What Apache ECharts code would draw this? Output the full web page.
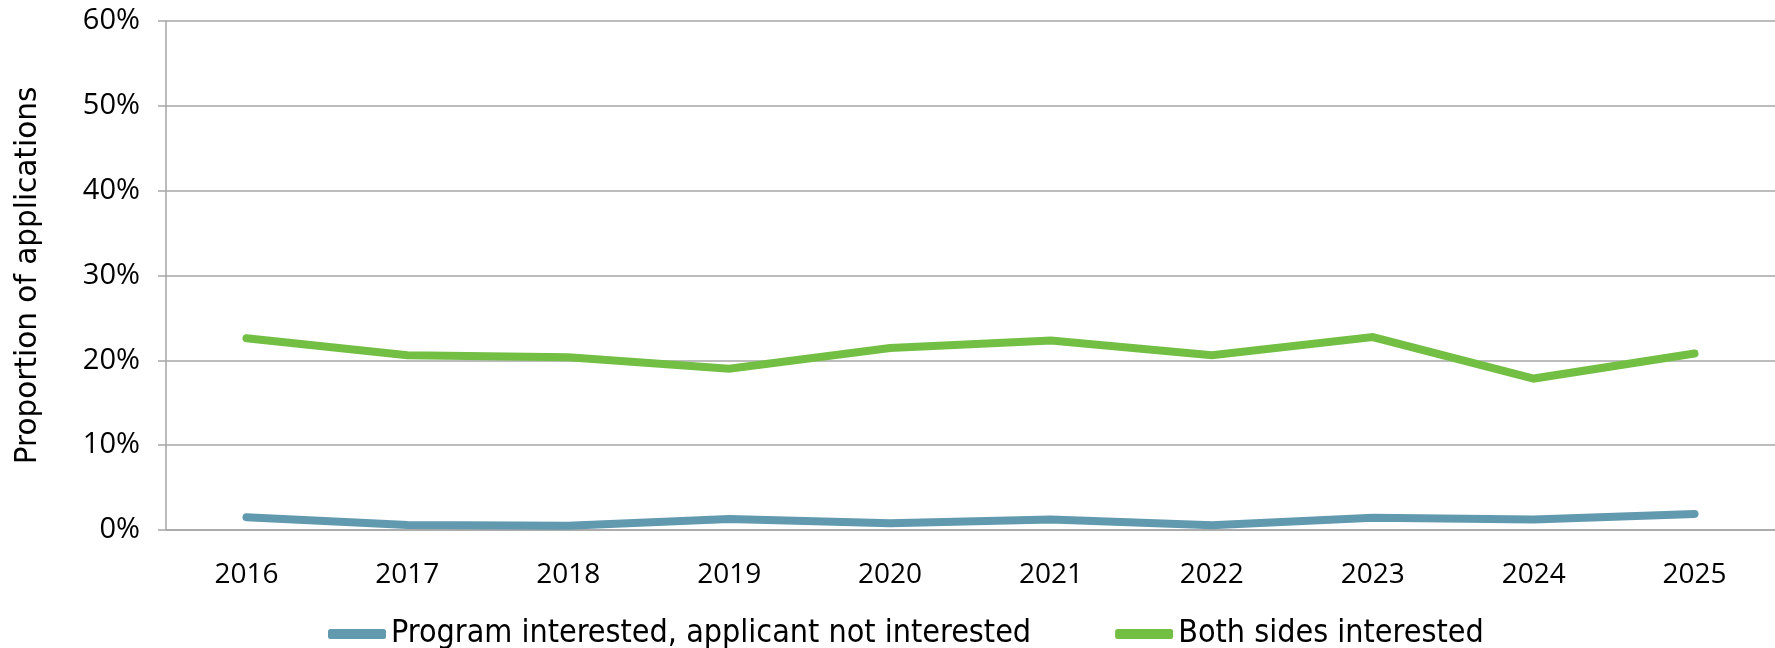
<!DOCTYPE html>
<html>
<head>
<meta charset="utf-8">
<script src="https://cdn.jsdelivr.net/npm/echarts@6/dist/echarts.min.js"></script>
<style>
html,body{margin:0;padding:0;background:#fff;}
#chart{width:1775px;height:648px;}
</style>
</head>
<body>
<div id="chart"></div>
<script>
const years = ['2016','2017','2018','2019','2020','2021','2022','2023','2024','2025'];
const programOnly = [1.5, 0.6, 0.5, 1.3, 0.8, 1.25, 0.55, 1.45, 1.25, 1.9];
const bothSides = [22.6, 20.6, 20.35, 19.0, 21.45, 22.35, 20.6, 22.75, 17.85, 20.8];
const seriesNames = ['Program interested, applicant not interested', 'Both sides interested'];
const yTicks = [0, 10, 20, 30, 40, 50, 60];

const chart = echarts.init(document.getElementById('chart'), null, {renderer:'canvas'});
const gray = '#A6A6A6';
chart.setOption({
  animation: false,
  backgroundColor: '#ffffff',
  grid: {left: 166, top: 21, width: 1617, height: 509, containLabel: false},
  legend: {
    left: 323, top: 613,
    itemWidth: 58, itemHeight: 10, itemGap: 84,
    icon: 'roundRect',
    textStyle: {fontFamily: '"DejaVu Sans Condensed", "DejaVu Sans"', fontSize: 32, color: '#000'},
    data: seriesNames
  },
  xAxis: {
    type: 'category',
    data: years,
    boundaryGap: true,
    axisLine: {lineStyle: {color: gray, width: 1.5}},
    axisTick: {length: 8, lineStyle: {color: gray, width: 1.5}},
    axisLabel: {fontFamily: 'Open Sans', fontSize: 28, color: '#000', margin: 31}
  },
  yAxis: {
    type: 'value',
    min: yTicks[0], max: yTicks[yTicks.length-1], interval: 10,
    name: 'Proportion of applications',
    nameLocation: 'middle',
    nameGap: 123,
    nameTextStyle: {fontFamily: 'DejaVu Sans', fontSize: 29.5, color: '#000'},
    axisLine: {show: true, lineStyle: {color: gray, width: 1.5}},
    axisTick: {show: true, length: 8, lineStyle: {color: gray, width: 1.5}},
    splitLine: {lineStyle: {color: gray, width: 1.5}},
    axisLabel: {fontFamily: 'Open Sans', fontSize: 29, color: '#000', margin: 26, formatter: v => v + '%'}
  },
  series: [
    {name: seriesNames[0], type: 'line', data: programOnly, showSymbol: false, symbol: 'none',
     itemStyle: {color: '#6199AE'},
     lineStyle: {color: '#6199AE', width: 8, cap: 'round', join: 'miter'}},
    {name: seriesNames[1], type: 'line', data: bothSides, showSymbol: false, symbol: 'none',
     itemStyle: {color: '#72BF44'},
     lineStyle: {color: '#72BF44', width: 8, cap: 'round', join: 'miter'}}
  ]
});
</script>
</body>
</html>
